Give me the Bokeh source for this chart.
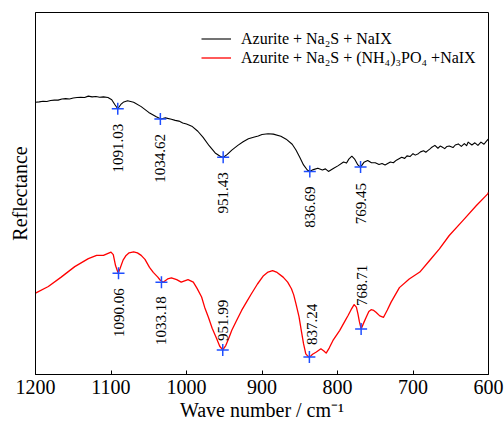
import numpy as np
from bokeh.plotting import figure
from bokeh.models import Range1d, FixedTicker, Legend, LegendItem, ColumnDataSource
from bokeh.embed import file_html
from bokeh.resources import INLINE
from bokeh.core.properties import value

# ---------------- data (arbitrary reflectance units) ----------------
black_wn = [1200, 1195, 1190, 1185, 1180, 1175, 1170, 1165, 1160, 1155, 1150, 1145, 1140, 1135,
            1130, 1125, 1120, 1115, 1110, 1104, 1099, 1095, 1091,
            1087, 1083, 1078, 1070, 1060, 1050, 1040, 1034, 1028, 1020, 1015, 1010, 1005, 1000,
            993, 985, 978, 970, 962, 955, 951, 946, 940, 932, 925, 918, 910, 905, 900, 892, 885,
            875, 868, 860, 855, 850, 845, 840, 837, 832, 826, 820, 816, 812, 805, 799, 792, 788,
            785, 781, 777, 773, 769.5, 765, 760, 755, 750, 745, 741, 737, 730, 726, 722, 715, 711,
            708, 704, 700, 697, 693, 690, 686, 683, 680, 677, 675, 671, 667, 664, 662, 658, 655,
            652, 647, 644, 640, 636, 632, 629, 627, 622, 618, 614, 610, 606, 603, 600]
black_y = [75.2, 75.3, 75.5, 75.4, 75.7, 75.8, 75.8, 76.1, 76.2, 76.1, 76.4, 76.5, 76.6, 76.5,
           76.9, 76.7, 76.8, 76.6, 76.7, 76.5, 75.9, 74.6, 73.4,
           74.6, 75.3, 75.6, 75.2, 74.0, 72.4, 71.2, 70.6, 70.9, 70.5, 70.2, 70.0, 69.5, 69.2,
           68.6, 67.2, 65.5, 63.2, 61.2, 60.2, 60.0, 60.8, 62.0, 63.3, 64.3, 65.1, 65.6, 65.9,
           66.3, 66.5, 66.4, 65.8, 65.0, 63.6, 62.0, 60.0, 57.9, 56.5, 56.1, 56.6, 57.0, 56.5,
           56.8, 56.1, 57.0, 57.7, 58.7, 58.4, 59.5, 60.3, 59.4, 57.9, 57.3, 58.6, 59.1, 58.5,
           58.5, 58.0, 58.3, 57.9, 58.7, 58.5, 59.2, 60.0, 59.7, 60.4, 60.2, 61.0, 60.6, 61.0,
           61.5, 61.8, 61.4, 61.9, 62.4, 62.8, 63.3, 62.5, 63.1, 62.9, 62.4, 63.0, 63.1, 62.7,
           63.4, 63.7, 63.0, 63.8, 63.2, 64.2, 63.4, 64.0, 63.3, 64.2, 63.6, 64.4, 65.1]

red_wn = [1200, 1183, 1166, 1148, 1130, 1119, 1110, 1100, 1097, 1094, 1090.5, 1088, 1084, 1080,
          1076, 1070, 1065, 1060, 1055, 1049, 1044, 1038, 1035, 1031, 1025, 1020, 1013, 1007,
          998, 991, 986, 980, 976, 971, 966, 960, 956, 952, 948, 944, 940, 934, 927, 920, 914,
          906, 898, 892, 886, 880, 872, 866, 861, 858, 855, 851, 848, 845, 842, 839, 837, 833,
          828, 822, 818, 815, 811, 806, 797, 790, 786, 782, 778, 775, 773, 771, 768.7, 765, 762,
          758.5, 755.5, 752, 749, 744, 739, 734, 729, 718, 705, 691, 678, 665, 652, 634, 616,
          601, 600]
red_y = [22.5, 24.3, 26.9, 29.8, 32.0, 32.9, 32.9, 33.8, 33.1, 30.1, 28.0, 29.3, 31.6, 32.9,
         33.6, 33.9, 33.6, 32.9, 31.8, 29.6, 28.2, 26.9, 26.1, 25.5, 26.4, 26.7, 26.2, 25.5,
         26.2, 25.5, 23.8, 21.4, 18.6, 15.8, 12.8, 9.9, 7.8, 6.8, 8.0, 10.0, 12.2, 14.8, 17.7,
         20.2, 22.3, 25.0, 27.3, 28.3, 28.7, 28.2, 26.9, 25.5, 23.7, 22.0, 19.5, 16.0, 12.2,
         8.5, 5.7, 5.0, 4.8, 5.6, 6.2, 7.1, 6.5, 5.9, 7.3, 9.4, 12.2, 14.8, 16.3, 17.9, 19.3,
         18.6, 16.8, 14.6, 12.6, 14.4, 15.8, 17.4, 17.9, 17.7, 17.2, 16.2, 15.8, 17.8, 20.0,
         24.0, 26.4, 28.3, 31.5, 34.7, 38.4, 42.5, 46.7, 49.9, 50.3]

black_peaks = [1091.03, 1034.62, 951.43, 836.69, 769.45]
black_peak_y = [73.4, 70.6, 60.0, 56.1, 57.3]
red_peaks = [1090.06, 1033.18, 951.99, 837.24, 768.71]
red_peak_y = [28.0, 25.5, 6.8, 4.8, 12.6]

series_names = ["Azurite + Na\u2082S + NaIX",
                "Azurite + Na\u2082S + (NH\u2084)\u2083PO\u2084 +NaIX"]
x_ticks = [1200, 1100, 1000, 900, 800, 700, 600]

# ---------------- layout / style ----------------
FONT = "Liberation Serif"
MARK = "#1f4fff"

p = figure(width=504, height=426, output_backend="svg", toolbar_location=None,
           x_range=Range1d(1200, 600), y_range=Range1d(0, 100),
           min_border_left=35, min_border_right=16, min_border_top=12, min_border_bottom=52)
p.grid.visible = False
p.outline_line_color = "black"
p.outline_line_width = 1
p.background_fill_color = "white"
p.border_fill_color = "white"

xa = p.xaxis[0]
xa.ticker = FixedTicker(ticks=x_ticks, minor_ticks=[])
xa.major_tick_in = 4
xa.major_tick_out = 0
xa.major_tick_line_color = "black"
xa.minor_tick_line_color = None
xa.major_label_text_font = FONT
xa.major_label_text_font_size = "20px"
xa.major_label_text_color = "black"
xa.major_label_standoff = 5
xa.axis_label = "Wave number / cm\u207b\u00b9"
xa.axis_label_text_font = FONT
xa.axis_label_text_font_size = "20px"
xa.axis_label_text_font_style = "normal"
xa.axis_label_text_color = "black"
xa.axis_label_standoff = 2
xa.axis_line_color = "black"

ya = p.yaxis[0]
ya.ticker = FixedTicker(ticks=[], minor_ticks=[])
ya.major_tick_line_color = None
ya.minor_tick_line_color = None
ya.major_label_text_font_size = "0px"
ya.axis_label = "Reflectance"
ya.axis_label_text_font = FONT
ya.axis_label_text_font_size = "20px"
ya.axis_label_text_font_style = "normal"
ya.axis_label_text_color = "black"
ya.axis_label_standoff = 5
ya.axis_line_color = "black"

r1 = p.line(black_wn, black_y, line_color="black", line_width=1.1, line_join="round")
r2 = p.line(red_wn, red_y, line_color="#ff0000", line_width=1.3, line_join="round")

p.scatter(black_peaks + red_peaks, black_peak_y + red_peak_y, marker="cross", size=12,
          line_color=MARK, line_width=1.5)

# label placement (style): positive = below the marker, negative = above
fmt = lambda v: f"{v:.2f}"
below = ColumnDataSource(dict(
    x=black_peaks + red_peaks[:2],
    y=black_peak_y + red_peak_y[:2],
    t=[fmt(v) for v in black_peaks + red_peaks[:2]],
    dy=[15, 15, 15, 15, 16, 15, 14],
    dx=[0, 0, 0, 0, 0, 0, 0]))
above = ColumnDataSource(dict(
    x=red_peaks[2:], y=red_peak_y[2:],
    t=[fmt(v) for v in red_peaks[2:]],
    dy=[-9, -12, -23],
    dx=[0, 3, 1]))

common = dict(angle=np.pi / 2, text_baseline="middle", text_font=value(FONT),
              text_font_size=value("15px"), text_color="black")
p.text(x="x", y="y", text="t", x_offset="dx", y_offset="dy", text_align="right",
       source=below, **common)
p.text(x="x", y="y", text="t", x_offset="dx", y_offset="dy", text_align="left",
       source=above, **common)

legend = Legend(items=[LegendItem(label=series_names[0], renderers=[r1]),
                       LegendItem(label=series_names[1], renderers=[r2])],
                location=(166, 307), border_line_color=None, background_fill_alpha=0,
                label_text_font=FONT, label_text_font_size="16px", label_text_color="black",
                glyph_width=30, glyph_height=19, label_height=19, spacing=0,
                padding=5, label_standoff=10, margin=0)
p.add_layout(legend)

open("out.html", "w").write(file_html(p, INLINE))
